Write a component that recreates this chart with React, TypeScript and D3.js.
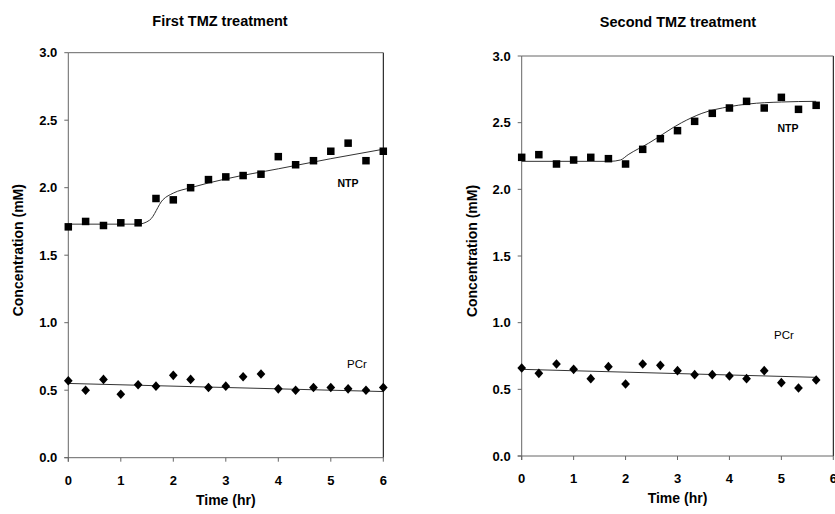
import * as d3 from "d3";

// time points (hr)
const timeFirst = [0, 0.33, 0.67, 1, 1.33, 1.67, 2, 2.33, 2.67, 3, 3.33, 3.67, 4, 4.33, 4.67, 5, 5.33, 5.67, 6];
const timeSecond = [0, 0.33, 0.67, 1, 1.33, 1.67, 2, 2.33, 2.67, 3, 3.33, 3.67, 4, 4.33, 4.67, 5, 5.33, 5.67];

// measured concentrations (mM)
const ntpFirst = [1.71, 1.75, 1.72, 1.74, 1.74, 1.92, 1.91, 2.0, 2.06, 2.08, 2.09, 2.1, 2.23, 2.17, 2.2, 2.27, 2.33, 2.2, 2.27];
const pcrFirst = [0.57, 0.5, 0.58, 0.47, 0.54, 0.53, 0.61, 0.58, 0.52, 0.53, 0.6, 0.62, 0.51, 0.5, 0.52, 0.52, 0.51, 0.5, 0.52];
const ntpSecond = [2.24, 2.26, 2.19, 2.22, 2.24, 2.23, 2.19, 2.3, 2.38, 2.44, 2.51, 2.57, 2.61, 2.66, 2.61, 2.69, 2.6, 2.63];
const pcrSecond = [0.66, 0.62, 0.69, 0.65, 0.58, 0.67, 0.54, 0.69, 0.68, 0.64, 0.61, 0.61, 0.6, 0.58, 0.64, 0.55, 0.51, 0.57];

// fitted curves as [time, value]
const ntpFitFirst: [number, number][] = [[0, 1.73], [1.33, 1.73], [1.55, 1.76], [1.8, 1.91], [2.0, 1.96], [2.33, 2.0], [3, 2.065], [4, 2.14], [5, 2.215], [6, 2.285]];
const pcrFitFirst: [number, number][] = [[0, 0.55], [6, 0.49]];
const ntpFitSecond: [number, number][] = [[0, 2.21], [1.7, 2.21], [1.9, 2.22], [2.05, 2.26], [2.44, 2.345], [3.08, 2.5], [3.47, 2.57], [4, 2.62], [4.36, 2.64], [5, 2.655], [5.67, 2.66]];
const pcrFitSecond: [number, number][] = [[0, 0.65], [5.67, 0.59]];

const xTicks = [0, 1, 2, 3, 4, 5, 6];
const yTicks = [0, 0.5, 1.0, 1.5, 2.0, 2.5, 3.0];

const font = "Arial, 'Liberation Sans', sans-serif";

type PanelProps = {
  title: string;
  left: number;
  right: number;
  top: number;
  bottom: number;
  time: number[];
  ntp: number[];
  pcr: number[];
  ntpFit: [number, number][];
  pcrFit: [number, number][];
  ntpLabel: [number, number];
  pcrLabel: [number, number];
  titleX: number;
  titleY: number;
  yLabelX: number;
};

function Panel(props: PanelProps) {
  const { left, right, top, bottom, time, ntp, pcr } = props;

  const x = d3.scaleLinear().domain([0, 6]).range([left, right]);
  const y = d3.scaleLinear().domain([0, 3]).range([bottom, top]);

  const line = d3
    .line<[number, number]>()
    .x((d) => x(d[0]))
    .y((d) => y(d[1]))
    .curve(d3.curveMonotoneX);

  // square turned on its corner
  const diamond = d3.symbol().type(d3.symbolSquare).size(42)();

  return (
    <g>
      <text x={props.titleX} y={props.titleY} textAnchor="middle" fontFamily={font} fontSize={14.5} fontWeight="bold">
        {props.title}
      </text>

      {/* frame */}
      <line x1={right} x2={right} y1={top} y2={bottom} stroke="#000" />
      <line x1={left} x2={right} y1={top} y2={top} stroke="#666" />
      <line x1={left} x2={left} y1={top} y2={bottom + 4} stroke="#666" />
      <line x1={left - 4} x2={right} y1={bottom} y2={bottom} stroke="#666" />

      {yTicks.map((t) => (
        <g key={"y" + t}>
          <line x1={left - 4} x2={left} y1={y(t)} y2={y(t)} stroke="#666" />
          <text x={left - 11} y={y(t) + 4.5} textAnchor="end" fontFamily={font} fontSize={13} fontWeight="bold">
            {t.toFixed(1)}
          </text>
        </g>
      ))}
      {xTicks.map((t) => (
        <g key={"x" + t}>
          <line x1={x(t)} x2={x(t)} y1={bottom} y2={bottom + 4} stroke="#666" />
          <text x={x(t)} y={bottom + 27} textAnchor="middle" fontFamily={font} fontSize={13} fontWeight="bold">
            {t}
          </text>
        </g>
      ))}

      <text x={(left + right) / 2} y={bottom + 47} textAnchor="middle" fontFamily={font} fontSize={14} fontWeight="bold">
        Time (hr)
      </text>
      <text
        transform={`translate(${props.yLabelX},${(top + bottom) / 2 - 5}) rotate(-90)`}
        textAnchor="middle"
        fontFamily={font}
        fontSize={14}
        fontWeight="bold"
      >
        Concentration (mM)
      </text>

      <path d={line(props.ntpFit) ?? ""} fill="none" stroke="#333" strokeWidth={1} />
      <path d={line(props.pcrFit) ?? ""} fill="none" stroke="#333" strokeWidth={1} />

      {ntp.map((v, i) => (
        <rect key={"n" + i} x={x(time[i]) - 3.75} y={y(v) - 3.75} width={7.5} height={7.5} fill="#000" />
      ))}
      {pcr.map((v, i) => (
        <path
          key={"p" + i}
          d={diamond ?? ""}
          transform={`translate(${x(time[i])},${y(v)}) scale(0.95,1.05) rotate(45)`}
          fill="#000"
        />
      ))}

      <text x={props.ntpLabel[0]} y={props.ntpLabel[1]} textAnchor="middle" fontFamily={font} fontSize={10.5} fontWeight="bold">
        NTP
      </text>
      <text x={props.pcrLabel[0]} y={props.pcrLabel[1]} textAnchor="middle" fontFamily={font} fontSize={11.5}>
        PCr
      </text>
    </g>
  );
}

export default function App() {
  return (
    <svg width={835} height={514} style={{ position: "absolute", left: 0, top: 0, background: "#fff" }}>
      <rect width={835} height={514} fill="#fff" />
      <Panel
        title="First TMZ treatment"
        left={68.3}
        right={383.3}
        top={52.7}
        bottom={457.7}
        time={timeFirst}
        ntp={ntpFirst}
        pcr={pcrFirst}
        ntpFit={ntpFitFirst}
        pcrFit={pcrFitFirst}
        ntpLabel={[348, 187]}
        pcrLabel={[357, 368]}
        titleX={220}
        titleY={26}
        yLabelX={23}
      />
      <Panel
        title="Second TMZ treatment"
        left={521.7}
        right={833.3}
        top={56}
        bottom={456}
        time={timeSecond}
        ntp={ntpSecond}
        pcr={pcrSecond}
        ntpFit={ntpFitSecond}
        pcrFit={pcrFitSecond}
        ntpLabel={[788, 132]}
        pcrLabel={[784, 339]}
        titleX={678}
        titleY={27}
        yLabelX={477}
      />
    </svg>
  );
}
